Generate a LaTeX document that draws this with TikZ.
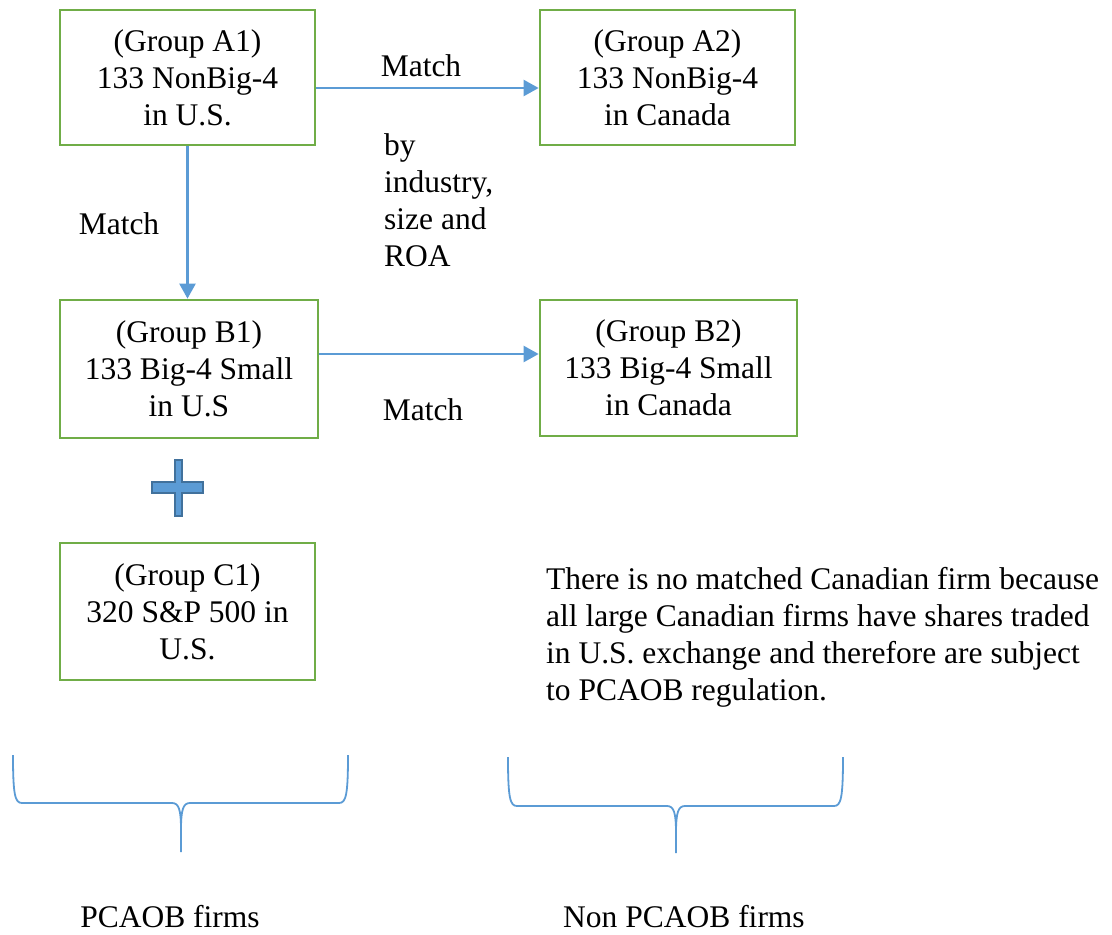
\documentclass[tikz,border=0pt]{standalone}
\usepackage{fontspec}
\setmainfont{Liberation Serif}
\usetikzlibrary{arrows.meta}
\definecolor{boxgreen}{RGB}{112,173,71}
\definecolor{arrblue}{RGB}{91,155,213}
\definecolor{plusedge}{RGB}{65,113,156}
\tikzset{
  grp/.style={draw=boxgreen, line width=2.7pt, rectangle, align=center, inner sep=0pt,
    font=\fontsize{31.5}{37}\selectfont},
  arr/.style={draw=arrblue, line width=2.3pt, -{Triangle[length=15pt,width=16pt]}},
  lbl/.style={inner sep=0pt, font=\fontsize{31.5}{37}\selectfont},
  brace/.style={draw=arrblue, line width=1.8pt},
}
\begin{document}
\begin{tikzpicture}[x=1pt,y=-1pt]
\useasboundingbox (0,0) rectangle (1112,935);
% boxes
\node[grp, minimum width=255pt, minimum height=135pt] (A1) at (187.5,77.5) {(Group A1)\\133 NonBig-4\\in U.S.};
\node[grp, minimum width=255pt, minimum height=135pt] (A2) at (667.5,77.5) {(Group A2)\\133 NonBig-4\\in Canada};
\node[grp, minimum width=258pt, minimum height=138pt] (B1) at (189,369) {(Group B1)\\133 Big-4 Small\\in U.S};
\node[grp, minimum width=257pt, minimum height=136pt] (B2) at (668.5,368) {(Group B2)\\133 Big-4 Small\\in Canada};
\node[grp, minimum width=255pt, minimum height=137pt] (C1) at (187.5,611.5) {(Group C1)\\320 S\&P 500 in\\U.S.};
% arrows
\draw[arr] ([yshift=-10.5pt]A1.east) -- ([yshift=-10.5pt]A1.east -| A2.west);
\draw[arr] (A1.south) -- (A1.south |- B1.north);
\draw[arr] ([yshift=15pt]B1.east) -- ([yshift=15pt]B1.east -| B2.west);
% labels
\node[lbl] (m1) at (421,66) {Match};
\node[lbl] (m2) at (119,224) {Match};
\node[lbl] (m3) at (423,410) {Match};
\node[lbl, align=left, anchor=west] (by) at (384,200) {by\\industry,\\size and\\ROA};
\node[lbl, align=left, anchor=west] (note) at (546,637) {There is no matched Canadian firm because\\all large Canadian firms have shares traded\\in U.S. exchange and therefore are subject\\to PCAOB regulation.};
\node[lbl] (p1) at (170,917) {PCAOB firms};
\node[lbl] (p2) at (684,917) {Non PCAOB firms};
% plus sign
\draw[fill=arrblue, draw=plusedge, line width=1.3pt]
  (152,482) -- (175,482) -- (175,460) -- (182,460) -- (182,482) -- (203,482)
  -- (203,493) -- (182,493) -- (182,516) -- (175,516) -- (175,493) -- (152,493) -- cycle;
% braces
\draw[brace] (13,755) .. controls (13,795) and (15,803) .. (22,803) -- (172,803)
  .. controls (179,803) and (181,810) .. (181,830) -- (181,852);
\draw[brace] (348,755) .. controls (348,795) and (346,803) .. (339,803) -- (190,803)
  .. controls (183,803) and (181,810) .. (181,830);
\draw[brace] (508,757) .. controls (508,798) and (510,806) .. (517,806) -- (667,806)
  .. controls (674,806) and (676,813) .. (676,833) -- (676,853);
\draw[brace] (843,757) .. controls (843,798) and (841,806) .. (834,806) -- (685,806)
  .. controls (678,806) and (676,813) .. (676,833);
\end{tikzpicture}
\end{document}
